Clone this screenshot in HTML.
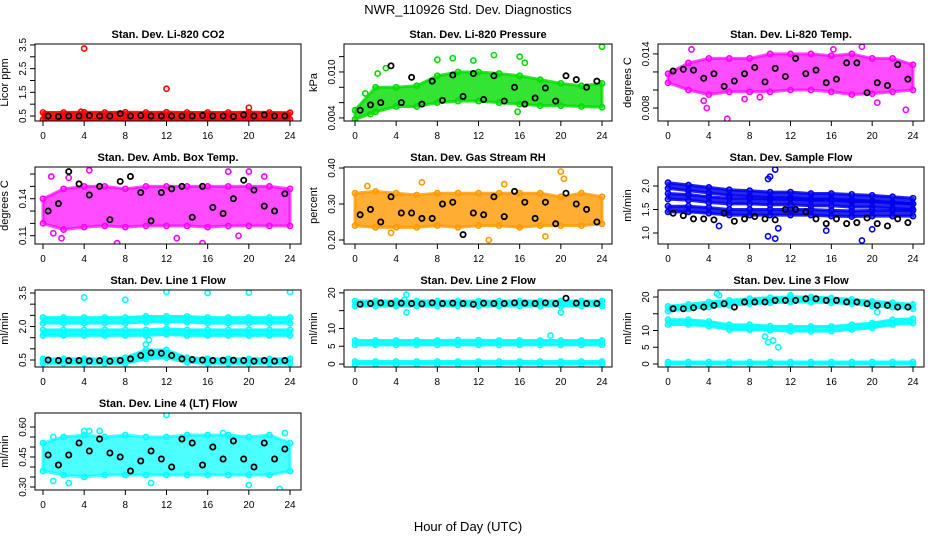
<!DOCTYPE html>
<html><head><meta charset="utf-8"><style>
html,body{margin:0;padding:0;background:#fff;}
svg{display:block;font-family:"Liberation Sans",sans-serif;}
</style></head><body>
<svg id="c" width="936" height="540" viewBox="0 0 936 540">
<text x="468" y="14" text-anchor="middle" font-size="13">NWR_110926  Std. Dev. Diagnostics</text>
<text x="468" y="531" text-anchor="middle" font-size="13">Hour of Day (UTC)</text>
</svg>
<script>
// shared data
const bandHours = [0,2,4,6,8,10,12,14,16,18,20,22,24];
const blackHours = [0.5,1.5,2.5,3.5,4.5,5.5,6.5,7.5,8.5,9.5,10.5,11.5,12.5,13.5,14.5,15.5,16.5,17.5,18.5,19.5,20.5,21.5,22.5,23.5];
const xTicks = [0,4,8,12,16,20,24];

// P1 CO2
const co2Lo = [0.35,0.35,0.35,0.35,0.35,0.35,0.35,0.35,0.35,0.35,0.35,0.35,0.35];
const co2Hi = [0.65,0.65,0.66,0.65,0.66,0.65,0.66,0.65,0.65,0.65,0.66,0.65,0.64];
const co2OutX = [4,12,20,3.7,10];
const co2OutY = [3.35,1.65,0.85,0.68,0.35];
const co2Black = [0.5,0.48,0.5,0.5,0.52,0.5,0.5,0.6,0.5,0.52,0.5,0.5,0.5,0.5,0.5,0.52,0.5,0.5,0.48,0.55,0.5,0.55,0.5,0.5];
// P2 Pressure
const prLo = [0.0038,0.0048,0.0055,0.0055,0.0060,0.0062,0.0062,0.0060,0.0058,0.0056,0.0056,0.0055,0.0054];
const prHi = [0.0050,0.0080,0.0080,0.0082,0.0095,0.0100,0.0100,0.0098,0.0095,0.0090,0.0085,0.0082,0.0085];
const prOutX = [1,2.2,3,8,9.5,13.5,16,16.5,24,15.8,1.5,11.5];
const prOutY = [0.0072,0.0098,0.0105,0.0116,0.0118,0.0122,0.0120,0.0112,0.0133,0.0048,0.0045,0.0115];
const prBlack = [0.0050,0.0057,0.0060,0.0108,0.0060,0.0093,0.0058,0.0088,0.0063,0.0096,0.0068,0.0098,0.0064,0.0095,0.0062,0.0080,0.0058,0.0066,0.0079,0.0062,0.0095,0.0090,0.0080,0.0088];
// P3 Temp
const tpLo = [0.0108,0.0100,0.0095,0.0098,0.0098,0.0098,0.0100,0.0100,0.0098,0.0095,0.0096,0.0098,0.0100];
const tpHi = [0.0118,0.0130,0.0135,0.0135,0.0135,0.0140,0.0140,0.0140,0.0138,0.0140,0.0135,0.0135,0.0128];
const tpOutX = [3.5,3.8,5.8,2.3,14,19,23.3,20.5,16.2,9,7.5];
const tpOutY = [0.0088,0.0080,0.0068,0.0145,0.0155,0.0148,0.0078,0.0086,0.0145,0.0092,0.0090];
const tpBlack = [0.0121,0.0123,0.0122,0.0113,0.0118,0.0104,0.0110,0.0118,0.0125,0.0109,0.0124,0.0115,0.0135,0.0118,0.0122,0.0108,0.0112,0.0130,0.0130,0.0097,0.0108,0.0105,0.0128,0.0112];
// P4 Amb box temp
const abLo = [0.120,0.115,0.117,0.118,0.117,0.118,0.118,0.118,0.117,0.118,0.118,0.118,0.118];
const abHi = [0.140,0.148,0.150,0.150,0.148,0.150,0.150,0.150,0.150,0.150,0.150,0.150,0.148];
const abOutX = [0.8,1,2.5,4.5,7.2,15.5,18,20,1.8,19,13,21.5];
const abOutY = [0.158,0.112,0.157,0.163,0.104,0.104,0.162,0.162,0.108,0.110,0.108,0.158];
const abBlack = [0.130,0.136,0.162,0.152,0.143,0.150,0.123,0.154,0.158,0.145,0.122,0.145,0.148,0.150,0.125,0.150,0.133,0.128,0.140,0.155,0.147,0.134,0.130,0.144];
// P5 RH
const rhLo = [0.24,0.235,0.235,0.235,0.24,0.235,0.24,0.24,0.235,0.24,0.24,0.24,0.245];
const rhHi = [0.33,0.335,0.33,0.325,0.33,0.33,0.33,0.33,0.33,0.33,0.32,0.33,0.32];
const rhOutX = [20,20.3,6.5,13,18.5,1.2,14.5,3.5];
const rhOutY = [0.39,0.37,0.36,0.2,0.21,0.35,0.355,0.22];
const rhBlack = [0.27,0.285,0.25,0.32,0.275,0.275,0.26,0.26,0.3,0.305,0.215,0.275,0.27,0.32,0.265,0.335,0.305,0.26,0.305,0.245,0.33,0.3,0.285,0.25];
// P6 Sample flow (three sub-bands)
const sfALo = [1.95,1.9,1.85,1.8,1.78,1.75,1.75,1.72,1.72,1.7,1.68,1.65,1.62];
const sfAHi = [2.07,2.02,1.97,1.92,1.9,1.87,1.87,1.84,1.84,1.82,1.8,1.77,1.74];
const sfBLo = [1.72,1.7,1.65,1.62,1.62,1.6,1.6,1.58,1.58,1.55,1.55,1.52,1.5];
const sfBHi = [1.84,1.82,1.77,1.74,1.74,1.72,1.72,1.7,1.7,1.67,1.67,1.64,1.62];
const sfCLo = [1.45,1.45,1.42,1.38,1.38,1.38,1.38,1.38,1.36,1.35,1.36,1.36,1.36];
const sfCHi = [1.57,1.57,1.54,1.5,1.5,1.5,1.5,1.5,1.48,1.47,1.48,1.48,1.48];
const sfOutX = [9.8,10.5,19,9.8,10,10.5,15.5,20,10.8,5];
const sfOutY = [0.93,0.88,0.84,2.15,2.2,2.35,1.05,1.08,1.1,1.15];
const sfBlack = [1.42,1.37,1.30,1.30,1.28,1.42,1.25,1.30,1.35,1.30,1.28,1.50,1.50,1.45,1.30,1.20,1.30,1.20,1.22,1.32,1.20,1.15,1.30,1.22];
// P7 Line 1
const l1ALo = [2.15,2.15,2.15,2.15,2.15,2.2,2.2,2.2,2.15,2.15,2.15,2.15,2.15];
const l1AHi = [2.4,2.4,2.4,2.4,2.4,2.45,2.45,2.45,2.4,2.4,2.4,2.4,2.4];
const l1BLo = [1.6,1.6,1.6,1.6,1.6,1.6,1.65,1.6,1.6,1.6,1.6,1.6,1.6];
const l1BHi = [1.85,1.85,1.85,1.85,1.85,1.85,1.9,1.85,1.85,1.85,1.85,1.85,1.85];
const l1CLo = [0.35,0.35,0.35,0.35,0.35,0.55,0.6,0.4,0.35,0.35,0.35,0.35,0.35];
const l1CHi = [0.55,0.55,0.55,0.55,0.6,0.95,0.95,0.6,0.55,0.55,0.55,0.55,0.55];
const l1OutX = [4,8,12,16,20,24,10,10.3];
const l1OutY = [3.3,3.2,3.55,3.5,3.52,3.55,1.2,1.4];
const l1Black = [0.5,0.48,0.47,0.48,0.46,0.47,0.45,0.48,0.55,0.7,0.82,0.8,0.7,0.55,0.52,0.5,0.48,0.49,0.49,0.48,0.45,0.48,0.45,0.48];
// P8 Line 2
const l2ALo = [16.3,16.3,16.3,16.3,16.3,16.3,16.3,16.3,16.3,16.3,16.3,16.3,16.3];
const l2AHi = [17.7,17.7,17.7,17.7,17.7,17.7,17.7,17.7,17.7,17.7,17.7,17.7,17.7];
const l2BLo = [5.4,5.4,5.4,5.4,5.4,5.4,5.4,5.4,5.4,5.4,5.4,5.4,5.4];
const l2BHi = [6.6,6.6,6.6,6.6,6.6,6.7,6.7,6.6,6.6,6.6,6.6,6.6,6.6];
const l2CLo = [0,0,0,0,0,0,0,0,0,0,0,0,0];
const l2CHi = [0.7,0.7,0.7,0.7,0.7,0.7,0.7,0.7,0.7,0.7,0.7,0.7,0.7];
const l2OutX = [5,5,19,20,4.8];
const l2OutY = [19.5,14.5,8,14.5,18];
const l2Black = [16.8,17,17.2,17,17.1,17,16.9,17.2,17,17.1,17,16.8,17.1,17,17,17.2,17.1,17,17.2,17,18.5,17.1,17,17];
// P9 Line 3
const l3ALo = [15.8,16.5,17,17.5,18,18.3,18.5,18.5,18.3,18,17.3,17,16.5];
const l3AHi = [17.2,17.8,18.5,19,19.5,19.8,20,20,19.7,19.3,18.7,18.3,17.8];
const l3BLo = [11.8,11.8,11.3,10.3,10.3,10.1,9.8,9.8,9.8,10.3,10.8,11.8,12.2];
const l3BHi = [13.2,13.2,12.7,11.7,11.7,11.3,11.2,11.2,11.2,11.7,12.2,13.2,13.5];
const l3CLo = [0,0,0,0,0,0,0,0,0,0,0,0,0];
const l3CHi = [0.6,0.6,0.6,0.6,0.6,0.6,0.6,0.6,0.6,0.6,0.6,0.6,0.6];
const l3OutX = [9.5,9.8,10.3,10.8,4.8,5,12,20.5];
const l3OutY = [8.2,6.5,7,5,21,20.5,20.5,15.5];
const l3Black = [16.5,16.5,16.8,17,17.5,18,17,18.5,18.5,18.5,19,19,19,19.5,19.5,19,19,18.5,18.5,18,17.5,17.5,17,17];
// P10 Line 4
const l4Lo = [0.38,0.36,0.35,0.36,0.36,0.36,0.36,0.36,0.36,0.36,0.36,0.36,0.38];
const l4Hi = [0.52,0.55,0.56,0.55,0.56,0.55,0.55,0.56,0.56,0.56,0.55,0.56,0.52];
const l4OutX = [12,4.5,5.5,1,2.5,10.5,23,1,17.5,23.5,4,20];
const l4OutY = [0.66,0.58,0.58,0.33,0.32,0.32,0.29,0.55,0.57,0.57,0.58,0.31];
const l4Black = [0.46,0.41,0.46,0.52,0.48,0.54,0.47,0.45,0.38,0.43,0.48,0.44,0.40,0.54,0.52,0.41,0.50,0.44,0.53,0.44,0.40,0.52,0.44,0.49];

const NS = 'http://www.w3.org/2000/svg';
const svg = document.getElementById('c');
function mk(tag, attrs, parent){const e=document.createElementNS(NS,tag);for(const k in attrs)e.setAttribute(k,attrs[k]);(parent||svg).appendChild(e);return e;}

const panels = [
 {slug:'li820-co2',title:'Stan. Dev. Li-820 CO2',ylab:'Licor ppm',col:0,row:0,dom:[0.29,3.54],col1:'#ff0000',op:0.9,bands:[[co2Lo,co2Hi]],ox:co2OutX,oy:co2OutY,blk:co2Black,ticks:[0.5,1,1.5,2,2.5,3,3.5],labs:[0.5,1.5,2.5,3.5],dec:1},
 {slug:'li820-pressure',title:'Stan. Dev. Li-820 Pressure',ylab:'kPa',col:1,row:0,dom:[0.0036,0.01365],col1:'#00dd00',op:0.8,bands:[[prLo,prHi]],ox:prOutX,oy:prOutY,blk:prBlack,ticks:[0.004,0.006,0.008,0.010,0.012],labs:[0.004,0.010],dec:3},
 {slug:'li820-temp',title:'Stan. Dev. Li-820 Temp.',ylab:'degrees C',col:2,row:0,dom:[0.00656,0.0151],col1:'#ff00ff',op:0.7,bands:[[tpLo,tpHi]],ox:tpOutX,oy:tpOutY,blk:tpBlack,ticks:[0.008,0.010,0.012,0.014],labs:[0.008,0.014],dec:3},
 {slug:'amb-box-temp',title:'Stan. Dev. Amb. Box Temp.',ylab:'degrees C',col:0,row:1,dom:[0.1033,0.1657],col1:'#ff00ff',op:0.7,bands:[[abLo,abHi]],ox:abOutX,oy:abOutY,blk:abBlack,ticks:[0.11,0.12,0.13,0.14,0.15,0.16],labs:[0.11,0.14],dec:2},
 {slug:'gas-stream-rh',title:'Stan. Dev. Gas Stream RH',ylab:'percent',col:1,row:1,dom:[0.1889,0.4028],col1:'#ff9900',op:0.8,bands:[[rhLo,rhHi]],ox:rhOutX,oy:rhOutY,blk:rhBlack,ticks:[0.2,0.3,0.4],labs:[0.2,0.3,0.4],dec:2},
 {slug:'sample-flow',title:'Stan. Dev. Sample Flow',ylab:'ml/min',col:2,row:1,dom:[0.766,2.404],col1:'#0000ee',op:0.85,bands:[[sfALo,sfAHi],[sfBLo,sfBHi],[sfCLo,sfCHi]],ox:sfOutX,oy:sfOutY,blk:sfBlack,ticks:[1,1.5,2],labs:[1,1.5,2],dec:1},
 {slug:'line1-flow',title:'Stan. Dev. Line 1 Flow',ylab:'ml/min',col:0,row:2,dom:[0.187,3.634],col1:'#00ffff',op:0.9,bands:[[l1ALo,l1AHi],[l1BLo,l1BHi],[l1CLo,l1CHi]],ox:l1OutX,oy:l1OutY,blk:l1Black,ticks:[0.5,1,1.5,2,2.5,3,3.5],labs:[0.5,2,3.5],dec:1},
 {slug:'line2-flow',title:'Stan. Dev. Line 2 Flow',ylab:'ml/min',col:1,row:2,dom:[-0.83,20.8],col1:'#00ffff',op:0.9,bands:[[l2ALo,l2AHi],[l2BLo,l2BHi],[l2CLo,l2CHi]],ox:l2OutX,oy:l2OutY,blk:l2Black,ticks:[0,5,10,15,20],labs:[0,5,10,20],dec:0},
 {slug:'line3-flow',title:'Stan. Dev. Line 3 Flow',ylab:'ml/min',col:2,row:2,dom:[-0.9,22.1],col1:'#00ffff',op:0.9,bands:[[l3ALo,l3AHi],[l3BLo,l3BHi],[l3CLo,l3CHi]],ox:l3OutX,oy:l3OutY,blk:l3Black,ticks:[0,5,10,15,20],labs:[0,5,10,20],dec:0},
 {slug:'line4-flow',title:'Stan. Dev. Line 4 (LT) Flow',ylab:'ml/min',col:0,row:3,dom:[0.285,0.67],col1:'#00ffff',op:0.7,bands:[[l4Lo,l4Hi]],ox:l4OutX,oy:l4OutY,blk:l4Black,ticks:[0.3,0.35,0.4,0.45,0.5,0.55,0.6],labs:[0.3,0.45,0.6],dec:2}
];
const colBox = [[35,301,43,290],[344,612,355,602],[658,924,668,913]];
const rowTop = [44,167,290,413];
const BH = 77;

panels.forEach(p=>{
  const [L,R,x0,x24] = colBox[p.col];
  const T = rowTop[p.row], B = T+BH;
  const xs = h => x0 + (x24-x0)*h/24;
  const ys = v => B - (v-p.dom[0])/(p.dom[1]-p.dom[0])*BH;
  const g = mk('g',{});
  
  
  const t = mk('text',{x:(L+R)/2,y:T-6,'text-anchor':'middle','font-size':11,'font-weight':'bold'},g);
  t.textContent = p.title;
  
  
  const clip = mk('clipPath',{id:'cl-'+p.slug},g);
  mk('rect',{x:L,y:T,width:R-L,height:BH},clip);
  const plot = mk('g',{'clip-path':'url(#cl-'+p.slug+')'},g);
  p.bands.forEach((b,bi)=>{
    const lo=b[0], hi=b[1];
    let pts=[];
    bandHours.forEach((h,i)=>pts.push(xs(h)+','+ys(hi[i])));
    for(let i=bandHours.length-1;i>=0;i--)pts.push(xs(bandHours[i])+','+ys(lo[i]));
    const poly = mk('polygon',{points:pts.join(' '),fill:p.col1,'fill-opacity':p.op,stroke:p.col1,'stroke-opacity':p.op,'stroke-width':3,'stroke-linejoin':'round'},plot);
    
    
    bandHours.forEach((h,i)=>{
      [lo[i],hi[i]].forEach(v=>{
        const c = mk('circle',{cx:xs(h),cy:ys(v),r:2.6,fill:'none',stroke:p.col1,'stroke-width':1.6},plot);
        
        
      });
    });
  });
  p.ox.forEach((h,i)=>{
    const c = mk('circle',{cx:xs(h),cy:ys(p.oy[i]),r:2.6,fill:'none',stroke:p.col1,'stroke-width':1.6},plot);
    
    
  });
  p.blk.forEach((v,i)=>{
    const c = mk('circle',{cx:xs(blackHours[i]),cy:ys(v),r:2.6,fill:'none',stroke:'#000','stroke-width':1.8},plot);
    
    
  });
  const box = mk('rect',{x:L,y:T,width:R-L,height:BH,fill:'none',stroke:'#000','stroke-width':1},g);
  
  
  mk('line',{x1:xs(0),x2:xs(24),y1:B,y2:B,stroke:'#000'},g);
  xTicks.forEach(h=>{
    mk('line',{x1:xs(h),x2:xs(h),y1:B,y2:B+5,stroke:'#000'},g);
    const tl = mk('text',{x:xs(h),y:B+18,'text-anchor':'middle','font-size':10},g);
    tl.textContent = h;
    
    
  });
  p.ticks.forEach(v=>{
    mk('line',{x1:L,x2:L-5,y1:ys(v),y2:ys(v),stroke:'#000'},g);
  });
  p.labs.forEach(v=>{
    const yy = ys(v);
    const tl = mk('text',{x:L-9,y:yy,'text-anchor':'middle','font-size':10,transform:'rotate(-90 '+(L-9)+' '+yy+')'},g);
    tl.textContent = v.toFixed(p.dec);
    
    
  });
  const yl = mk('text',{x:L-27,y:(T+B)/2,'text-anchor':'middle','font-size':11,transform:'rotate(-90 '+(L-27)+' '+((T+B)/2)+')'},g);
  yl.textContent = p.ylab;
  
  
});
</script>
</body></html>
